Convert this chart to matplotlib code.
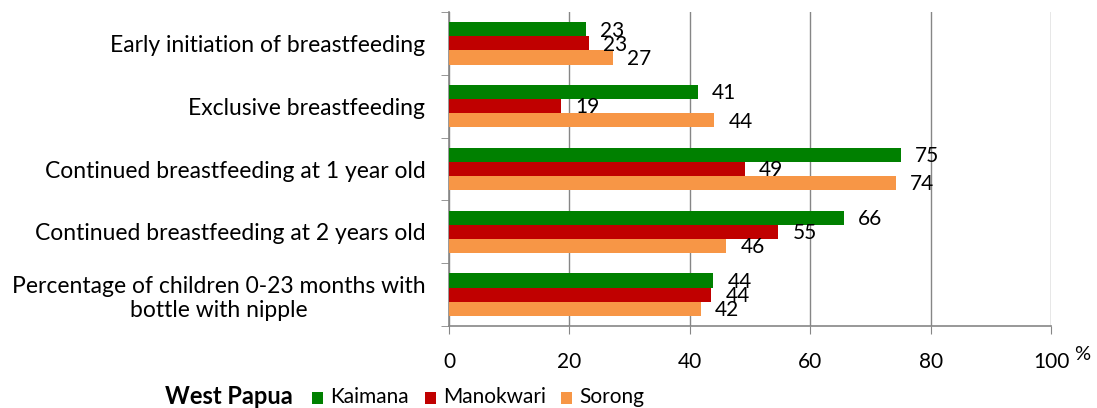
import matplotlib
matplotlib.use("Agg")
import matplotlib.pyplot as plt
import numpy as np
from matplotlib.patches import Rectangle

categories = [
    "Early initiation of breastfeeding",
    "Exclusive breastfeeding",
    "Continued breastfeeding at 1 year old",
    "Continued breastfeeding at 2 years old",
    "Percentage of children 0-23 months with\nbottle with nipple",
]
series_names = ["Kaimana", "Manokwari", "Sorong"]
kaimana = [22.7, 41.3, 75.0, 65.6, 43.9]
manokwari = [23.2, 18.6, 49.1, 54.7, 43.5]
sorong = [27.2, 44.0, 74.2, 46.0, 41.8]
colors = ["#008000", "#C00000", "#F79646"]
xticks = [0, 20, 40, 60, 80, 100]

plt.rcParams['font.family'] = ['Lato', 'DejaVu Sans']

W, H = 1097, 408
fig = plt.figure(figsize=(W/100, H/100), dpi=100)
ax = fig.add_axes([449/W, 1-326/H, (1051-449)/W, (326-12)/H])

n = len(categories)
y = np.arange(n)
h = 0.225
for i, (vals, c) in enumerate(zip([kaimana, manokwari, sorong], colors)):
    pos = y - h + i*h
    ax.barh(pos, vals, height=h, color=c, zorder=3)
    for p, v in zip(pos, vals):
        ax.text(v + 2.4, p + 0.02, f"{v:.0f}", va='center', ha='left', fontsize=15, zorder=4)

ax.set_xlim(0, 100)
ax.set_ylim(n-0.5, -0.5)
ax.set_xticks(xticks)
ax.set_xticklabels([str(t) for t in xticks], fontsize=15)
ax.set_yticks(y)
ax.set_yticklabels(categories, fontsize=16.5, ha='right', multialignment='center')
ax.set_yticks(np.arange(-0.5, n, 1), minor=True)
ax.tick_params(axis='y', which='major', length=0, pad=17)
ax.tick_params(axis='y', which='minor', length=6, color='#868686', direction='out')
ax.tick_params(axis='x', length=6, color='#868686', direction='out', pad=13)
ax.grid(axis='x', color='#868686', linewidth=1, zorder=0)
for s in ['top', 'right']:
    ax.spines[s].set_visible(False)
for s in ['left', 'bottom']:
    ax.spines[s].set_color('#868686')
    ax.spines[s].set_linewidth(1.2)

fig.text(1074/W, 1-354/H, "%", fontsize=14.5, ha='left', va='center')

# legend row
ly = 1-397/H
fig.text(165/W, ly, "West Papua", fontsize=17, fontweight='bold', ha='left', va='center')
sq_x = [312, 425, 561]
for sx, c, name in zip(sq_x, colors, series_names):
    fig.patches.append(Rectangle((sx/W, 1-404/H), 11/W, 12/H, transform=fig.transFigure,
                                 facecolor=c, edgecolor='none'))
    fig.text((sx+18)/W, ly, name, fontsize=15, ha='left', va='center')

fig.savefig("out.png", dpi=100)
